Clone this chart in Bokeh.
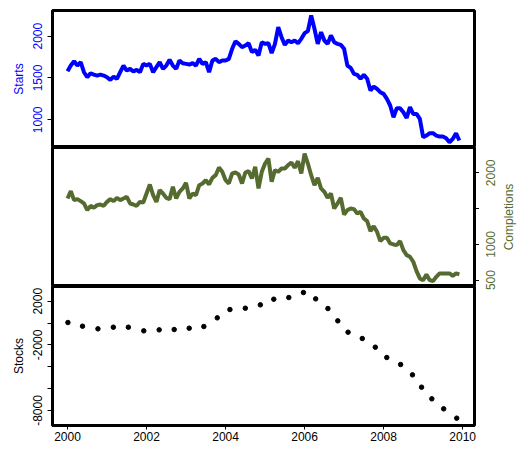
import math
from bokeh.plotting import figure
from bokeh.layouts import column, row
from bokeh.models import Range1d, FixedTicker
from bokeh.core.properties import value
from bokeh.embed import file_html
from bokeh.resources import INLINE

# Monthly series, Jan 2000 .. Dec 2009 (thousands of units)
starts = [
    1581, 1649, 1701, 1649, 1689, 1569, 1509, 1557, 1541, 1529, 1541, 1529,
    1509, 1477, 1517, 1489, 1569, 1649, 1589, 1609, 1577, 1597, 1569, 1669,
    1649, 1669, 1569, 1629, 1689, 1609, 1649, 1717, 1649, 1609, 1709, 1677,
    1669, 1661, 1677, 1649, 1729, 1669, 1689, 1569, 1709, 1729, 1689, 1709,
    1709, 1729, 1849, 1940, 1908, 1868, 1888, 1916, 1809, 1837, 1769, 1928,
    1908, 1916, 1797, 1908, 2108, 1988, 1896, 1948, 1928, 1948, 1916, 1968,
    2036, 2060, 2247, 2088, 1908, 2048, 1948, 1908, 2008, 1928, 1908, 1896,
    1849, 1649, 1621, 1549, 1537, 1490, 1537, 1490, 1350, 1398, 1370, 1330,
    1310, 1250, 1171, 1031, 1139, 1139, 1091, 1023, 1151, 1071, 1071, 1011,
    792, 812, 840, 840, 812, 800, 800, 780, 732, 772, 840, 752,
]
completions = [
    1641, 1744, 1618, 1632, 1604, 1571, 1478, 1538, 1511, 1548, 1557, 1538,
    1594, 1632, 1604, 1650, 1618, 1641, 1664, 1571, 1557, 1538, 1594, 1585,
    1711, 1837, 1688, 1594, 1758, 1711, 1650, 1632, 1804, 1641, 1734, 1781,
    1860, 1641, 1711, 1688, 1827, 1851, 1897, 1837, 1930, 1967, 2074, 2014,
    1897, 1851, 1991, 2004, 1977, 1851, 2004, 2023, 1921, 2084, 1781, 2014,
    2130, 2200, 1874, 2037, 2014, 2060, 2060, 2107, 2144, 2070, 2163, 1991,
    2270, 2130, 1967, 1827, 1930, 1781, 1734, 1650, 1711, 1501, 1571, 1650,
    1417, 1478, 1501, 1492, 1431, 1455, 1361, 1324, 1184, 1254, 1175, 1045,
    1091, 1091, 1012, 998, 989, 1045, 919, 849, 826, 756, 625, 523,
    499, 579, 499, 485, 546, 593, 593, 593, 593, 560, 593, 579,
]
months = [2000 + k / 12 for k in range(len(starts))]

# Stock change observations (irregular dates)
stock_time = [
    2000.01, 2000.38, 2000.77, 2001.16, 2001.54, 2001.93, 2002.32, 2002.70,
    2003.08, 2003.45, 2003.79, 2004.11, 2004.50, 2004.88, 2005.22, 2005.60,
    2005.97, 2006.28, 2006.59, 2006.84, 2007.10, 2007.46, 2007.79, 2008.08,
    2008.43, 2008.73, 2008.96, 2009.22, 2009.52, 2009.85,
]
stocks = [
    50, -287, -530, -378, -378, -713, -622, -591, -470, -317, 476, 1238,
    1360, 1665, 2183, 2335, 2793, 2213, 1329, 201, -835, -1415, -2207,
    -3152, -3793, -4738, -5866, -6933, -7848, -8701,
]

year_ticks = [2000, 2002, 2004, 2006, 2008, 2010]
starts_ticks = [1000, 1500, 2000]
completion_ticks = [500, 1000, 1500, 2000]
completion_labels = ["500", "1000", "", "2000"]
stock_ticks = [-8000, -6000, -4000, -2000, 0, 2000]

BLUE = "#0000FF"
OLIVE = "#556B2F"
FONT = "Liberation Sans"

x_range = Range1d(1999.62, 2010.30)

# heights of the three stacked panels (frame + border)
H1, H2, H3 = 147, 139, 163
SIDE_W = 38


def make_panel(width, height, y_range, top=0, bottom=0, right=43,
               y_side="left"):
    p = figure(width=width, height=height, x_range=x_range, y_range=y_range,
               output_backend="svg", toolbar_location=None,
               x_axis_location="below" if bottom else None,
               y_axis_location=y_side,
               min_border_left=52, min_border_right=right,
               min_border_top=top, min_border_bottom=bottom)
    p.xgrid.visible = False
    p.ygrid.visible = False
    p.outline_line_color = "black"
    p.outline_line_width = 3
    p.background_fill_color = "white"
    p.border_fill_color = "white"
    for ax in p.yaxis:
        ax.axis_line_color = None
        ax.major_tick_out = 5
        ax.major_tick_in = 0
        ax.minor_tick_line_color = None
        ax.major_label_text_font = FONT
        ax.major_label_text_font_size = "12px"
        ax.major_label_text_color = "black"
        ax.axis_label_text_font = FONT
        ax.axis_label_text_font_size = "12px"
        ax.axis_label_text_font_style = "normal"
        ax.axis_label_text_color = "black"
        ax.major_label_standoff = 5
        ax.axis_label_standoff = 5
    return p


# Starts panel
p1 = make_panel(517, H1, Range1d(669, 2307), top=10)
p1.line(months, starts, line_color=BLUE, line_width=4)
ax1 = p1.yaxis[0]
ax1.ticker = FixedTicker(ticks=starts_ticks)
ax1.major_label_orientation = "vertical"
ax1.major_label_text_color = BLUE
ax1.axis_label = "Starts"
ax1.axis_label_text_color = BLUE

# Completions panel: tick marks on the right; the rotated tick labels and
# the axis title sit in a narrow strip beside it
p2_range = Range1d(410, 2354)
p2 = make_panel(517 - SIDE_W, H2, p2_range, right=5, y_side="right")
p2.line(months, completions, line_color=OLIVE, line_width=4)
ax2 = p2.yaxis[0]
ax2.ticker = FixedTicker(ticks=completion_ticks)
ax2.major_label_overrides = {t: "" for t in completion_ticks}
ax2.major_label_standoff = 0

# Stocks panel
p3 = make_panel(517 - SIDE_W, H3, Range1d(-9372, 3345), bottom=24, right=5)
p3.scatter(stock_time, stocks, size=4.5, color="black")
ax3 = p3.yaxis[0]
ax3.ticker = FixedTicker(ticks=stock_ticks)
ax3.major_label_overrides = {2000: "2000", 0: "", -2000: "-2000",
                             -4000: "", -6000: "", -8000: "-8000"}
ax3.major_label_orientation = "vertical"
ax3.axis_label = "Stocks"
xax = p3.xaxis[0]
xax.ticker = FixedTicker(ticks=year_ticks)
xax.axis_line_color = None
xax.major_tick_out = 4
xax.major_tick_in = 0
xax.minor_tick_line_color = None
xax.major_label_standoff = 2
xax.major_label_text_font = FONT
xax.major_label_text_font_size = "12px"
xax.major_label_text_color = "black"

# Strip to the right of the Completions panel, sharing its vertical scale
# (it runs down past the panel so that the "500" label is not clipped)
per_px = (p2_range.end - p2_range.start) / H2
side = figure(width=SIDE_W, height=H2 + H3,
              x_range=Range1d(0, SIDE_W),
              y_range=Range1d(p2_range.end - per_px * (H2 + H3), p2_range.end),
              output_backend="svg", toolbar_location=None,
              x_axis_location=None, y_axis_location=None,
              min_border=0, outline_line_color=None)
side.xgrid.visible = False
side.ygrid.visible = False
side.text(x=[11] * len(completion_ticks), y=completion_ticks,
          text=completion_labels, angle=math.pi / 2,
          text_align="center", text_baseline="middle",
          text_font=value(FONT), text_font_size=value("12px"),
          text_color=OLIVE)
side.text(x=[29], y=[(p2_range.start + p2_range.end) / 2],
          text=["Completions"], angle=math.pi / 2,
          text_align="center", text_baseline="middle",
          text_font=value(FONT), text_font_size=value("12px"),
          text_color=OLIVE)

layout = column(p1, row(column(p2, p3, spacing=0), side, spacing=0),
                spacing=0)

with open("out.html", "w") as f:
    f.write(file_html(layout, INLINE))
